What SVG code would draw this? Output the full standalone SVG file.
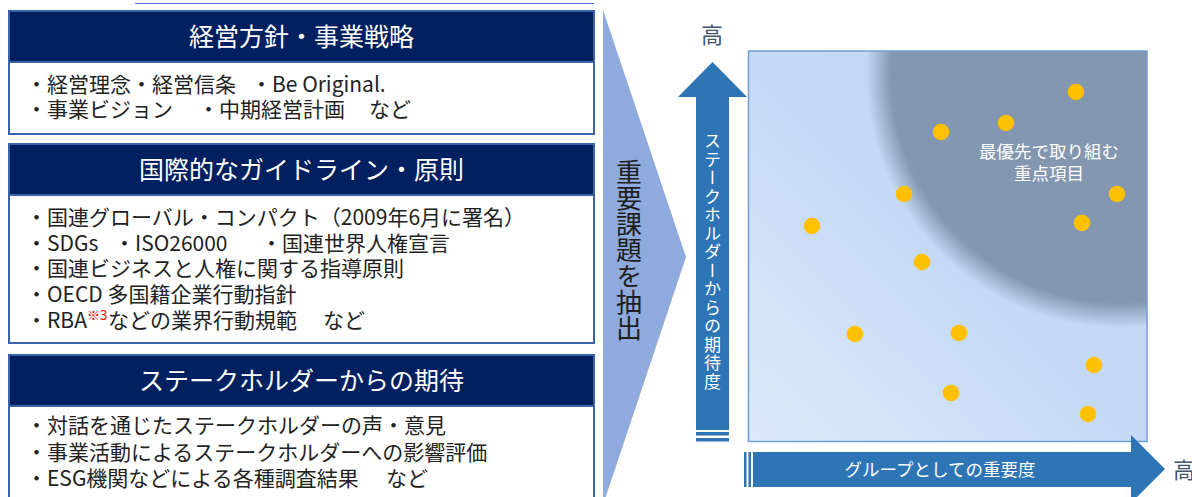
<svg xmlns="http://www.w3.org/2000/svg" width="1192" height="497" viewBox="0 0 1192 497">
<defs>
<style>
.hdr{fill:#002060;stroke:#3b63ad;stroke-width:2}
.body{fill:#fff;stroke:#3b63ad;stroke-width:2}
.ht{font-family:"Noto Sans CJK JP","Noto Sans",sans-serif;font-size:25px;fill:#fff;text-anchor:middle}
.bt{font-family:"Noto Sans CJK JP","Noto Sans",sans-serif;font-size:21px;fill:#222}
.sup{font-size:13px;fill:#ff0000}
.dot{fill:#ffc000}
.ax{fill:#2e75b6}
.hi{font-family:"Noto Sans CJK JP",sans-serif;font-size:22px;fill:#44546a}
.wt{font-family:"Noto Sans CJK JP",sans-serif;fill:#fff}
</style>
<linearGradient id="bg" x1="0" y1="1" x2="1" y2="0">
<stop offset="0" stop-color="#deeafa"/>
<stop offset="0.5" stop-color="#c4d9f5"/>
<stop offset="1" stop-color="#c2d7f4"/>
</linearGradient>
<radialGradient id="dark" gradientUnits="userSpaceOnUse" cx="1120" cy="74" r="254">
<stop offset="0.9" stop-color="#8497b0"/>
<stop offset="1" stop-color="#8497b0" stop-opacity="0"/>
</radialGradient>
<clipPath id="sq"><rect x="748.5" y="51" width="398.5" height="390.5"/></clipPath>
</defs>

<line x1="135" y1="3.5" x2="594" y2="3.5" stroke="#4472c4" stroke-width="1.2"/>

<g id="box-strategy">
<rect class="hdr" x="9" y="11" width="585" height="51"/>
<rect class="body" x="9" y="62" width="585" height="72"/>
<text class="ht" x="301.5" y="45.5">経営方針・事業戦略</text>
<text class="bt" y="92"><tspan x="26">・経営理念・経営信条</tspan><tspan x="251">・Be Original.</tspan></text>
<text class="bt" y="117"><tspan x="26">・事業ビジョン</tspan><tspan x="198">・中期経営計画</tspan><tspan x="369">など</tspan></text>
</g>

<g id="box-guidelines">
<rect class="hdr" x="9" y="144" width="585" height="51"/>
<rect class="body" x="9" y="195" width="585" height="148"/>
<text class="ht" x="301.5" y="178.5">国際的なガイドライン・原則</text>
<text class="bt" x="26" y="225">・国連グローバル・コンパクト（2009年6月に署名）</text>
<text class="bt" y="251"><tspan x="26">・SDGs</tspan><tspan x="114">・ISO26000</tspan><tspan x="261">・国連世界人権宣言</tspan></text>
<text class="bt" x="26" y="276">・国連ビジネスと人権に関する指導原則</text>
<text class="bt" x="26" y="302">・OECD 多国籍企業行動指針</text>
<text class="bt" y="328"><tspan x="26">・RBA</tspan><tspan class="sup" dy="-8">※3</tspan><tspan x="108" dy="8">などの業界行動規範</tspan><tspan x="323">など</tspan></text>
</g>

<g id="box-expectations">
<rect class="hdr" x="9" y="355" width="585" height="51"/>
<rect class="body" x="9" y="406" width="585" height="110"/>
<text class="ht" x="301.5" y="390" font-size="26.5">ステークホルダーからの期待</text>
<text class="bt" x="26" y="433">・対話を通じたステークホルダーの声・意見</text>
<text class="bt" x="26" y="460">・事業活動によるステークホルダーへの影響評価</text>
<text class="bt" y="486"><tspan x="26">・ESG機関などによる各種調査結果</tspan><tspan x="386">など</tspan></text>
</g>

<g id="extract">
<polygon points="603,10 686,257 603,505" fill="#8faadc"/>
<text x="629" y="250" text-anchor="middle" style="writing-mode:vertical-rl" font-family="Noto Sans CJK JP, sans-serif" font-size="26" fill="#1e1e1e">重要課題を抽出</text>
</g>

<g id="matrix">
<rect x="748.5" y="51" width="398.5" height="390.5" fill="url(#bg)"/>
<rect x="748.5" y="51" width="398.5" height="390.5" fill="url(#dark)" clip-path="url(#sq)"/>
<rect x="748.5" y="51" width="398.5" height="390.5" fill="none" stroke="#6f9fd8" stroke-width="1.5"/>
<text class="wt" font-size="17.5" text-anchor="middle" fill="#f2f2f2"><tspan x="1049" y="158">最優先で取り組む</tspan><tspan x="1049" y="180">重点項目</tspan></text>
</g>

<g id="dots">
<circle class="dot" cx="1076" cy="92" r="8.3"/>
<circle class="dot" cx="1006" cy="123" r="8.3"/>
<circle class="dot" cx="941" cy="132" r="8.3"/>
<circle class="dot" cx="904" cy="194" r="8.3"/>
<circle class="dot" cx="1117" cy="194" r="8.3"/>
<circle class="dot" cx="812" cy="226" r="8.3"/>
<circle class="dot" cx="1082" cy="223" r="8.3"/>
<circle class="dot" cx="922" cy="262" r="8.3"/>
<circle class="dot" cx="855" cy="334" r="8.3"/>
<circle class="dot" cx="959" cy="333" r="8.3"/>
<circle class="dot" cx="1094" cy="365" r="8.3"/>
<circle class="dot" cx="951" cy="393" r="8.3"/>
<circle class="dot" cx="1088" cy="414" r="8.3"/>
</g>

<g id="connectors">
<g id="axis-y">
<polygon class="ax" points="678,97 712.5,62 747,97 729,97 729,430 696,430 696,97"/>
<rect class="ax" x="696" y="432" width="33" height="3.5"/>
<rect class="ax" x="696" y="438" width="33" height="3.5"/>
<text class="wt" x="712.5" y="262" text-anchor="middle" font-size="17" letter-spacing="1.5" style="writing-mode:vertical-rl">ステークホルダーからの期待度</text>
<text class="hi" x="712" y="42.5" text-anchor="middle">高</text>
</g>
<g id="axis-x">
<polygon class="ax" points="753,452 1131,452 1131,435 1165,469 1131,503 1131,487 753,487"/>
<rect class="ax" x="744" y="452" width="2.5" height="35"/>
<rect class="ax" x="748.5" y="452" width="2.5" height="35"/>
<text class="wt" x="940" y="476" text-anchor="middle" font-size="17.5">グループとしての重要度</text>
<text class="hi" x="1173" y="478">高</text>
</g>
</g>
</svg>
